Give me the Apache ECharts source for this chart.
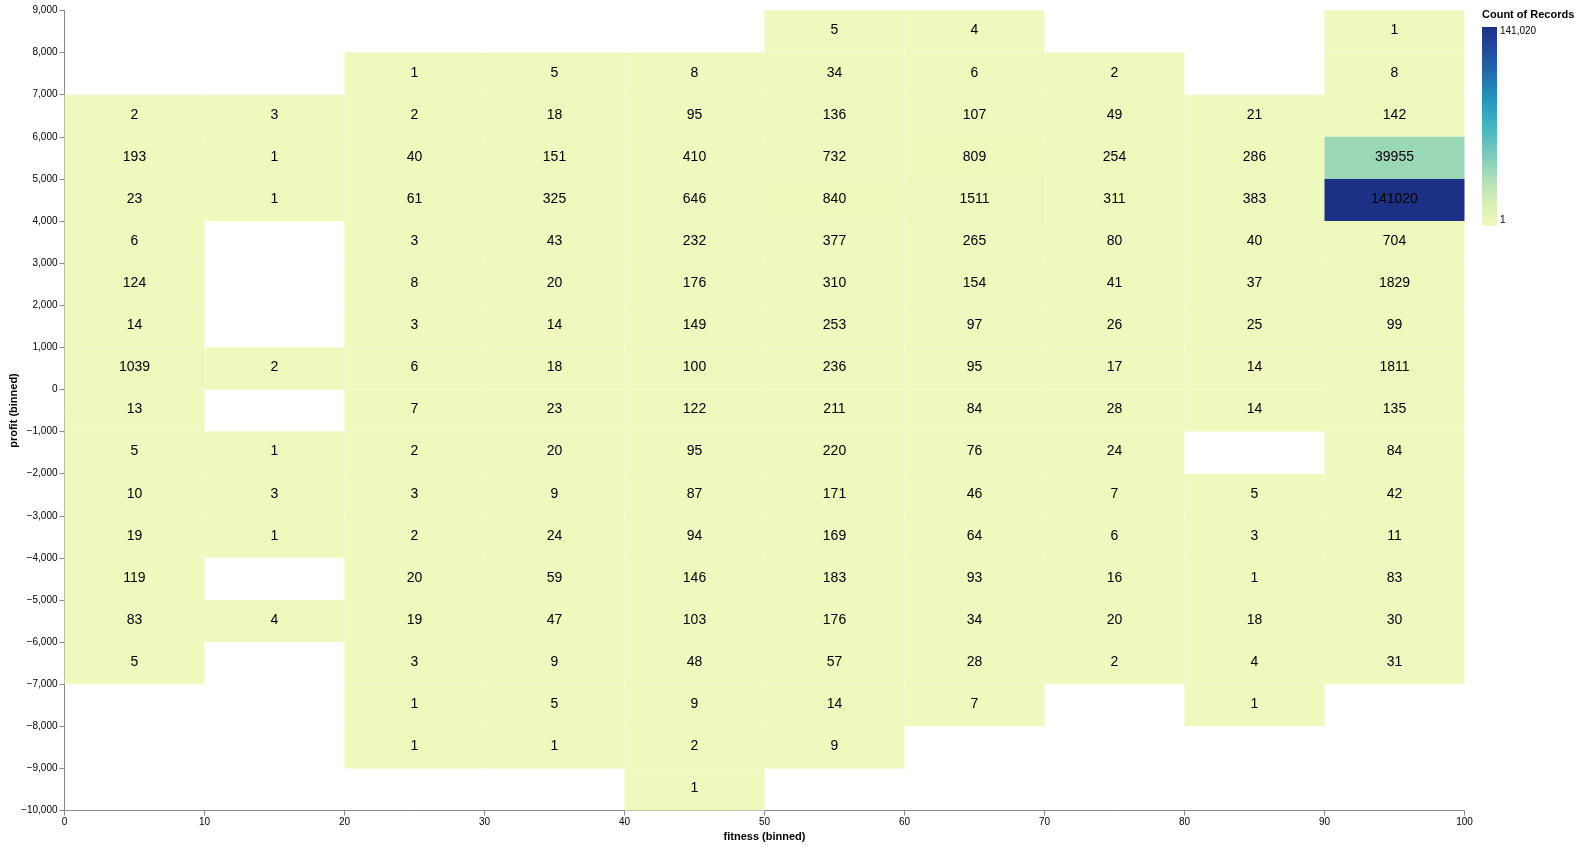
<!DOCTYPE html>
<html>
<head>
<meta charset="utf-8">
<script src="https://cdn.jsdelivr.net/npm/echarts@6/dist/echarts.min.js"></script>
<style>html,body{margin:0;padding:0;background:#fff}#c{width:1580px;height:847px}</style>
</head>
<body>
<div id="c"></div>
<script>
// bins
const xBins = [0, 10, 20, 30, 40, 50, 60, 70, 80, 90];
const yBins = [8000, 7000, 6000, 5000, 4000, 3000, 2000, 1000, 0, -1000, -2000, -3000, -4000, -5000, -6000, -7000, -8000, -9000, -10000];
const xTicks = [0, 10, 20, 30, 40, 50, 60, 70, 80, 90, 100];
// counts per fitness bin, listed from profit bin 8000 down to -10000
const fit0  = [null, null, 2, 193, 23, 6, 124, 14, 1039, 13, 5, 10, 19, 119, 83, 5, null, null, null];
const fit10 = [null, null, 3, 1, 1, null, null, null, 2, null, 1, 3, 1, null, 4, null, null, null, null];
const fit20 = [null, 1, 2, 40, 61, 3, 8, 3, 6, 7, 2, 3, 2, 20, 19, 3, 1, 1, null];
const fit30 = [null, 5, 18, 151, 325, 43, 20, 14, 18, 23, 20, 9, 24, 59, 47, 9, 5, 1, null];
const fit40 = [null, 8, 95, 410, 646, 232, 176, 149, 100, 122, 95, 87, 94, 146, 103, 48, 9, 2, 1];
const fit50 = [5, 34, 136, 732, 840, 377, 310, 253, 236, 211, 220, 171, 169, 183, 176, 57, 14, 9, null];
const fit60 = [4, 6, 107, 809, 1511, 265, 154, 97, 95, 84, 76, 46, 64, 93, 34, 28, 7, null, null];
const fit70 = [null, 2, 49, 254, 311, 80, 41, 26, 17, 28, 24, 7, 6, 16, 20, 2, null, null, null];
const fit80 = [null, null, 21, 286, 383, 40, 37, 25, 14, 14, null, 5, 3, 1, 18, 4, 1, null, null];
const fit90 = [1, 8, 142, 39955, 141020, 704, 1829, 99, 1811, 135, 84, 42, 11, 83, 30, 31, null, null, null];
const columns = [fit0, fit10, fit20, fit30, fit40, fit50, fit60, fit70, fit80, fit90];
const countMin = 1, countMax = 141020;
const colors = ['#eff9bd', '#dbf1b4', '#bde5b5', '#94d5b9', '#69c5be', '#45b4c2', '#2c9ec0', '#2182b8', '#2163aa', '#23479c', '#1c3185'];

const data = [];
columns.forEach((col, i) => {
  col.forEach((v, j) => {
    if (v != null) data.push([xBins[i], yBins[j], v]);
  });
});

const FONT = '"Liberation Sans", Arial, Helvetica, sans-serif';
const fmt = v => {
  const s = Math.abs(v).toLocaleString('en-US');
  return v < 0 ? '\u2212' + s : s;
};

const chart = echarts.init(document.getElementById('c'), null, {renderer: 'canvas'});
chart.setOption({
  animation: false,
  backgroundColor: '#fff',
  textStyle: {fontFamily: FONT},
  grid: {left: 64.5, top: 10.5, width: 1400, height: 800, containLabel: false, outerBoundsMode: 'none'},
  xAxis: {
    type: 'value', min: 0, max: 100, interval: 10,
    name: 'fitness (binned)', nameLocation: 'middle', nameGap: 21, nameMoveOverlap: false,
    nameTextStyle: {fontWeight: 'bold', fontSize: 11, color: '#000', fontFamily: FONT},
    axisLine: {show: true, onZero: false, lineStyle: {color: '#888', width: 1}},
    axisTick: {show: true, length: 5, lineStyle: {color: '#888'}},
    axisLabel: {fontSize: 10, color: '#000', margin: 7, fontFamily: FONT},
    splitLine: {show: false}
  },
  yAxis: {
    type: 'value', min: -10000, max: 9000, interval: 1000,
    name: 'profit (binned)', nameLocation: 'middle', nameGap: 45, nameMoveOverlap: false,
    nameTextStyle: {fontWeight: 'bold', fontSize: 11, color: '#000', fontFamily: FONT},
    axisLine: {show: true, onZero: false, lineStyle: {color: '#888', width: 1}},
    axisTick: {show: true, length: 5, lineStyle: {color: '#888'}},
    axisLabel: {fontSize: 10, color: '#000', margin: 7, fontFamily: FONT, formatter: fmt},
    splitLine: {show: false}
  },
  visualMap: {
    show: false, type: 'continuous', min: countMin, max: countMax,
    dimension: 2, seriesIndex: 0, inRange: {color: colors}
  },
  series: [{
    type: 'custom',
    data: data,
    encode: {x: 0, y: 1},
    renderItem: function (params, api) {
      const x0 = api.value(0), y0 = api.value(1), v = api.value(2);
      const p1 = api.coord([x0, y0 + 1000]);
      const p2 = api.coord([x0 + 10, y0]);
      const color = api.visual('color');
      return {
        type: 'group',
        children: [{
          type: 'rect',
          shape: {x: p1[0], y: p1[1], width: p2[0] - p1[0], height: p2[1] - p1[1]},
          style: {fill: color}
        }, {
          type: 'text',
          x: (p1[0] + p2[0]) / 2, y: (p1[1] + p2[1]) / 2 - 1,
          style: {text: String(v), fill: '#000', fontSize: 14, fontFamily: FONT, align: 'center', verticalAlign: 'middle'}
        }]
      };
    }
  }],
  graphic: [
    {type: 'text', left: 1482, top: 9, style: {text: 'Count of Records', fontSize: 11, fontWeight: 'bold', fill: '#000', fontFamily: FONT}},
    {type: 'rect', left: 1482, top: 27, shape: {width: 15, height: 199},
      style: {fill: new echarts.graphic.LinearGradient(0, 1, 0, 0,
        colors.map((c, i) => ({offset: i / (colors.length - 1), color: c})))}},
    {type: 'text', left: 1500, top: 26, style: {text: fmt(countMax), fontSize: 10, fill: '#000', fontFamily: FONT}},
    {type: 'text', left: 1500, top: 215, style: {text: fmt(countMin), fontSize: 10, fill: '#000', fontFamily: FONT}}
  ]
});
</script>
</body>
</html>
